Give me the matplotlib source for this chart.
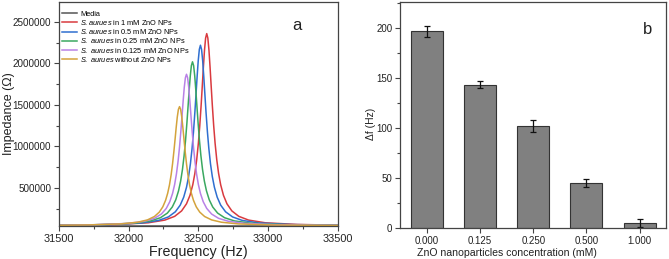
import matplotlib
matplotlib.use("Agg")
import matplotlib.pyplot as plt
from matplotlib.ticker import MultipleLocator, FuncFormatter

plt.rcParams["font.family"] = ["Liberation Sans", "DejaVu Sans"]
plt.rcParams["mathtext.fontset"] = "custom"
plt.rcParams["mathtext.rm"] = "Liberation Sans"
plt.rcParams["mathtext.it"] = "Liberation Sans:italic"

# Painel a: curvas de impedância
media_freq = [31500, 33500]
media_imp = [45000, 45000]

freq_0 = [31500, 31715, 31945, 32065, 32135, 32185, 32220, 32245, 32265, 32280, 32293, 32305, 32315, 32325,
          32333, 32341, 32349, 32357, 32365, 32373, 32381, 32389, 32397, 32405, 32415, 32425, 32437, 32450,
          32465, 32485, 32510, 32545, 32595, 32665, 32785, 33015, 33500]
imp_0 = [49700, 54200, 66700, 86900, 114700, 155500, 208600, 271900, 350500, 435800, 536900, 660500, 790600,
         946600, 1085800, 1228000, 1355900, 1446900, 1480000, 1446900, 1355900, 1228000, 1085800, 946600,
         790600, 660500, 536900, 435800, 350500, 271900, 208600, 155500, 114700, 86900, 66700, 54200, 47700]

freq_0125 = [31500, 31765, 31995, 32115, 32185, 32235, 32270, 32295, 32315, 32330, 32343, 32355, 32365, 32375,
             32383, 32391, 32399, 32407, 32415, 32423, 32431, 32439, 32447, 32455, 32465, 32475, 32487, 32500,
             32515, 32535, 32560, 32595, 32645, 32715, 32835, 33065, 33500]
imp_0125 = [50500, 56700, 72600, 98300, 133700, 185500, 253100, 333500, 433500, 541900, 670600, 827700, 993300,
            1191600, 1368700, 1549500, 1712100, 1827800, 1870000, 1827800, 1712100, 1549500, 1368700, 1191600,
            993300, 827700, 670600, 541900, 433500, 333500, 253100, 185500, 133700, 98300, 72600, 56700, 48900]

freq_025 = [31500, 31808, 32038, 32158, 32228, 32278, 32313, 32338, 32358, 32373, 32386, 32398, 32408, 32418,
            32426, 32434, 32442, 32450, 32458, 32466, 32474, 32482, 32490, 32498, 32508, 32518, 32530, 32543,
            32558, 32578, 32603, 32638, 32688, 32758, 32878, 33108, 33500]
imp_025 = [50300, 57600, 74800, 102700, 141000, 197100, 270200, 357200, 465500, 582800, 722000, 892100, 1071200,
           1285900, 1477500, 1673200, 1849200, 1974400, 2020000, 1974400, 1849200, 1673200, 1477500, 1285900,
           1071200, 892100, 722000, 582800, 465500, 357200, 270200, 197100, 141000, 102700, 74800, 57600, 49500]

freq_05 = [31500, 31865, 32095, 32215, 32285, 32335, 32370, 32395, 32415, 32430, 32443, 32455, 32465, 32475,
           32483, 32491, 32499, 32507, 32515, 32523, 32531, 32539, 32547, 32555, 32565, 32575, 32587, 32600,
           32615, 32635, 32660, 32695, 32745, 32815, 32935, 33165, 33500]
imp_05 = [50200, 58900, 77800, 108500, 150700, 212500, 293000, 388900, 508100, 637300, 790600, 977900, 1175100,
          1411600, 1622500, 1838100, 2031900, 2169800, 2220000, 2169800, 2031900, 1838100, 1622500, 1411600,
          1175100, 977900, 790600, 637300, 508100, 388900, 293000, 212500, 150700, 108500, 77800, 58900, 50600]

freq_1 = [31500, 31910, 32140, 32260, 32330, 32380, 32415, 32440, 32460, 32475, 32488, 32500, 32510, 32520,
          32528, 32536, 32544, 32552, 32560, 32568, 32576, 32584, 32592, 32600, 32610, 32620, 32632, 32645,
          32660, 32680, 32705, 32740, 32790, 32860, 32980, 33210, 33500]
imp_1 = [50100, 59800, 80000, 112600, 157500, 223300, 308900, 411000, 537900, 675400, 838600, 1037900, 1247900,
         1499500, 1724100, 1953500, 2159800, 2306500, 2360000, 2306500, 2159800, 1953500, 1724100, 1499500,
         1247900, 1037900, 838600, 675400, 537900, 411000, 308900, 223300, 157500, 112600, 80000, 59800, 51500]

# Painel b: deslocamento de frequência
concentracoes = ["0.000", "0.125", "0.250", "0.500", "1.000"]
delta_f = [197, 143.5, 102, 45, 5.5]
erro_f = [5.5, 3.5, 6, 4, 4]

cor_texto = "#222222"
cor_eixo = "#444444"

fig = plt.figure(figsize=(6.69, 2.59), dpi=100)
ax1 = fig.add_axes([0.088, 0.127, 0.417, 0.865])
ax2 = fig.add_axes([0.598, 0.118, 0.398, 0.874])

for ax in (ax1, ax2):
    for s in ax.spines.values():
        s.set_color(cor_eixo)
        s.set_linewidth(0.9)
    ax.tick_params(which="both", direction="out", colors=cor_eixo, labelcolor=cor_texto, width=0.8, pad=2)
    ax.tick_params(which="major", length=3.5)
    ax.tick_params(which="minor", length=2)

# --- painel a ---
ax1.plot(media_freq, media_imp, color="#555555", lw=1.1, label="Media")
ax1.plot(freq_1, imp_1, color="#d93a3f", lw=1.1, label=r"$\it{S.aurues}$ in 1 mM ZnO NPs")
ax1.plot(freq_05, imp_05, color="#2f6fd0", lw=1.1, label=r"$\it{S.aurues}$ in 0.5 mM ZnO NPs")
ax1.plot(freq_025, imp_025, color="#3aa860", lw=1.1, label=r"$\it{S.\ aurues}$ in 0.25 mM ZnO NPs")
ax1.plot(freq_0125, imp_0125, color="#b981e6", lw=1.1, label=r"$\it{S.\ aurues}$ in 0.125 mM ZnO NPs")
ax1.plot(freq_0, imp_0, color="#d4a33c", lw=1.1, label=r"$\it{S.\ aurues}$ without ZnO NPs")
ax1.set_xlim(31500, 33500)
ax1.set_ylim(40000, 2740000)
ax1.set_xticks([31500, 32000, 32500, 33000, 33500])
ax1.set_yticks([500000, 1000000, 1500000, 2000000, 2500000])
ax1.yaxis.set_major_formatter(FuncFormatter(lambda v, p: "%d" % v))
ax1.yaxis.set_minor_locator(MultipleLocator(250000))
ax1.xaxis.set_minor_locator(MultipleLocator(250))
ax1.tick_params(axis="x", labelsize=7.8)
ax1.tick_params(axis="y", labelsize=7.1)
ax1.set_xlabel("Frequency (Hz)", fontsize=10.3, color=cor_texto, labelpad=1)
ax1.set_ylabel("Impedance (Ω)", fontsize=9, color=cor_texto)
ax1.yaxis.set_label_coords(-0.158, 0.5)
ax1.legend(loc="upper left", fontsize=5.3, frameon=False, handlelength=2.1, handletextpad=0.4,
           labelspacing=0.03, borderaxespad=0.0, bbox_to_anchor=(0.0, 0.975))
ax1.text(0.853, 0.897, "a", transform=ax1.transAxes, fontsize=12, color=cor_texto, ha="center", va="center")

# --- painel b ---
pos = range(len(concentracoes))
ax2.bar(pos, delta_f, width=0.6, color="#808080", edgecolor="#333333", linewidth=0.8,
        yerr=erro_f, capsize=2, error_kw={"elinewidth": 0.9, "capthick": 0.9, "ecolor": "#111111"})
ax2.set_xticks(list(pos))
ax2.set_xticklabels(concentracoes)
ax2.set_xlim(-0.5, 4.5)
ax2.set_ylim(0, 226)
ax2.set_yticks([0, 50, 100, 150, 200])
ax2.yaxis.set_minor_locator(MultipleLocator(25))
ax2.tick_params(labelsize=7)
ax2.set_xlabel("ZnO nanoparticles concentration (mM)", fontsize=7.6, color=cor_texto, labelpad=1)
ax2.xaxis.set_label_coords(0.40, -0.085)
ax2.set_ylabel("Δf (Hz)", fontsize=7.5, color=cor_texto)
ax2.yaxis.set_label_coords(-0.092, 0.46)
ax2.text(0.929, 0.88, "b", transform=ax2.transAxes, fontsize=12, color=cor_texto, ha="center", va="center")

fig.savefig("out.png", dpi=100)
